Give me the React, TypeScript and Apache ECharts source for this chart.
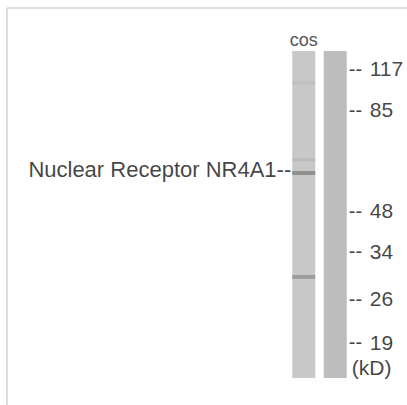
import React, { useEffect, useRef } from "react";
import * as echarts from "echarts";

// Lanes of the blot
const lanes = ["cos", ""];
const laneLength = [100, 100];

// Molecular-weight markers (migration as % of lane length)
const markerLabels = ["117", "85", "48", "34", "26", "19"];
const markerPos = [5.5, 18.0, 48.8, 61.2, 75.8, 89.1];
const unitLabel = "(kD)";
const unitPos = 96.9;

// Bands detected in lane "cos"
const bandPos = [9.8, 33.3, 37.3, 69.1];
const bandIntensity = [0.1, 0.2, 0.85, 0.65];
const bandName = ["", "", "Nuclear Receptor NR4A1--", ""];

const FONT = "'Liberation Sans', Arial, Helvetica, sans-serif";

function shade(i: number) {
  const base = 198;
  const v = Math.round(base - i * 80);
  return `rgb(${v},${v},${v})`;
}

export default function App() {
  const ref = useRef<HTMLDivElement>(null);
  useEffect(() => {
    if (!ref.current) return;
    const chart = echarts.init(ref.current, undefined, { renderer: "svg" });
    chart.setOption({
      animation: false,
      backgroundColor: "#ffffff",
      grid: { left: 288, right: 56, top: 51, bottom: 27 },
      xAxis: {
        type: "category",
        data: lanes,
        position: "top",
        axisLine: { show: false },
        axisTick: { show: false },
        axisLabel: {
          interval: 0,
          margin: 2,
          color: "#555",
          fontSize: 18,
          fontFamily: FONT,
        },
      },
      yAxis: {
        type: "value",
        min: 0,
        max: 100,
        inverse: true,
        show: false,
        splitLine: { show: false },
      },
      graphic: [
        {
          type: "line",
          shape: { x1: 7, y1: 8, x2: 407, y2: 8 },
          style: { stroke: "#dcdcdc", lineWidth: 2 },
        },
        {
          type: "line",
          shape: { x1: 7, y1: 8, x2: 7, y2: 405 },
          style: { stroke: "#dcdcdc", lineWidth: 2 },
        },
      ],
      series: [
        {
          type: "bar",
          data: laneLength.map((v, i) => ({
            value: v,
            itemStyle: { color: i === 0 ? "#c8c8c8" : "#bdbdbd" },
          })),
          barWidth: 23,
          silent: true,
        },
        {
          type: "scatter",
          symbol: "rect",
          data: bandPos.map((p, i) => ({
            value: [0, p],
            symbolSize: [23, bandIntensity[i] > 0.5 ? 4 : 3],
            itemStyle: { color: shade(bandIntensity[i]) },
            label: {
              show: bandName[i] !== "",
              formatter: bandName[i],
              position: "left",
              distance: 1,
              offset: [0, -3],
              color: "#111",
              fontSize: 22,
              fontFamily: FONT,
            },
          })),
          z: 3,
        },
        {
          type: "scatter",
          symbolSize: 1,
          itemStyle: { color: "transparent" },
          data: [
            ...markerPos.map((p, i) => ({
              value: [1, p],
              label: {
                show: true,
                position: "right",
                distance: 13,
                formatter: `{d|--}{n|${markerLabels[i]}}`,
              },
            })),
            {
              value: [1, unitPos],
              label: {
                show: true,
                position: "right",
                distance: 16,
                formatter: `{n|${unitLabel}}`,
              },
            },
          ],
          label: {
            rich: {
              d: { fontSize: 20, width: 21, color: "#111", fontFamily: FONT },
              n: { fontSize: 21, color: "#111", fontFamily: FONT },
            },
          },
          z: 4,
        },
      ],
    });
    return () => chart.dispose();
  }, []);
  return (
    <div
      ref={ref}
      style={{ position: "fixed", left: 0, top: 0, width: 407, height: 405 }}
    />
  );
}
